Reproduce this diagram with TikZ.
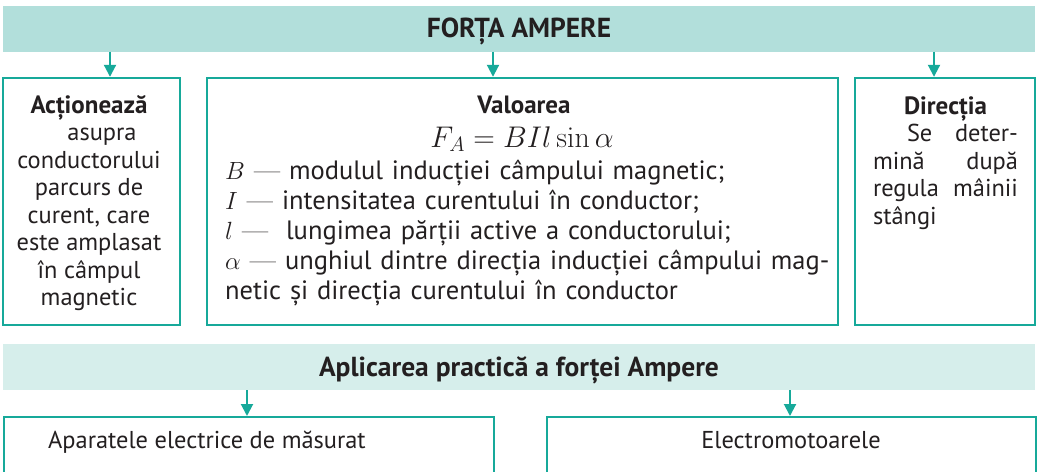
\documentclass[tikz,border=0pt]{standalone}
\usepackage{graphicx}
\usepackage[no-math]{fontspec}
\setmainfont{PT Sans}
\newfontfamily\lmfont{lmroman10-regular.otf}
\usetikzlibrary{arrows.meta,positioning}
\definecolor{tealLine}{HTML}{17A99A}
\definecolor{tealFill}{HTML}{B2DFDB}
\definecolor{tealPale}{HTML}{D6EEEB}
\definecolor{inkDark}{HTML}{231F20}
\newcommand{\longdash}{{\lmfont —}}
\newcommand{\lineTop}{\rule{0pt}{20pt}}
\tikzset{
  >={Triangle[width=12pt,length=12pt]},
  bannerMain/.style={fill=tealFill,draw=none,inner sep=0pt,
                     minimum width=1032pt,minimum height=46pt,
                     text height=18.5pt,text depth=0pt,
                     font=\fontsize{27.5}{30}\selectfont\bfseries,text=inkDark},
  bannerApp/.style={bannerMain,fill=tealPale},
  frameBox/.style={draw=tealLine,line width=2.4pt,fill=white,inner sep=0pt},
  titleText/.style={font=\fontsize{25}{28}\selectfont\bfseries,text=inkDark,inner sep=0pt},
  bodyText/.style={font=\fontsize{24.4}{27.5}\selectfont,text=inkDark,inner sep=0pt},
  listText/.style={font=\fontsize{26.5}{30}\selectfont,text=inkDark,inner sep=0pt},
  flowArrow/.style={->,line width=2pt,tealLine},
}

\begin{document}
\begin{tikzpicture}[x=1pt,y=-1pt]
\useasboundingbox (0,0) rectangle (1038,471);
\clip (0,0) rectangle (1038,471);

% Upper part: the force and its three properties.
\node[bannerMain] (force) at (519,28.5) {FORȚA AMPERE};

\node[frameBox,minimum width=177pt,minimum height=247pt] (act) at (91.5,201.5) {};
\node[frameBox,minimum width=631pt,minimum height=247pt] (val) at (522.5,201.5) {};
\node[frameBox,minimum width=180pt,minimum height=247pt] (dir) at (945,201.5) {};

\node[bodyText,align=center,anchor=north] (actText) at (89,93)
  {\lineTop{\fontsize{25}{27.5}\selectfont\bfseries Acționează}\\
   \hspace*{26pt}asupra\\ conductorului\\ parcurs de\\
   curent, care\\ este amplasat\\ în câmpul\\ magnetic};

\node[titleText,anchor=base] (valTitle) at (524,113) {Valoarea};
\node[inner sep=0pt,font=\fontsize{27}{30}\selectfont,text=inkDark,anchor=base]
  (formula) at (522,147) {\scalebox{1.2}{$F_A = BIl\sin\alpha$}};
\node[listText,align=left,text width=605pt,anchor=north west] (valText) at (225,159)
  {\lineTop$B$ \longdash{} modulul inducției câmpului magnetic;\\
   $I$ \longdash{} intensitatea curentului în conductor;\\
   $l$ \longdash{} \ lungimea părții active a conductorului;\\
   $\alpha$ \longdash{} unghiul dintre direcția inducției câmpului mag-\\
   netic și direcția curentului în conductor};

\node[bodyText,align=left,text width=145pt,anchor=north] (dirText) at (945.5,94)
  {\makebox[145pt]{\lineTop\hfill{\fontsize{25}{27.5}\selectfont\bfseries Direcția}\hfill}\\
   \makebox[145pt]{\hspace*{34pt}Se\hfill deter-}\\
   \makebox[145pt]{mină\hfill după}\\
   \makebox[145pt]{regula\hfill mâinii}\\
   stângi};

\coordinate (aAct) at (110,0);
\coordinate (aVal) at (493,0);
\coordinate (aDir) at (934,0);
\draw[flowArrow] (force.south -| aAct) -- (act.north -| aAct);
\draw[flowArrow] (force.south -| aVal) -- (val.north -| aVal);
\draw[flowArrow] (force.south -| aDir) -- (dir.north -| aDir);

% Lower part: where the force is used.
\node[bannerApp] (app) at (519,367) {Aplicarea practică a forței Ampere};

\node[frameBox,minimum width=490pt,minimum height=120pt,anchor=north west] (meters) at (3,416) {};
\node[frameBox,minimum width=489pt,minimum height=120pt,anchor=north west] (motors) at (546,416) {};
\node[bodyText,anchor=base west] (metersText) at (48,448) {Aparatele electrice de măsurat};
\node[bodyText,anchor=base] (motorsText) at (791,448) {Electromotoarele};

\coordinate (aMet) at (247,0);
\coordinate (aMot) at (790,0);
\draw[flowArrow] (app.south -| aMet) -- (meters.north -| aMet);
\draw[flowArrow] (app.south -| aMot) -- (motors.north -| aMot);

\end{tikzpicture}
\end{document}
